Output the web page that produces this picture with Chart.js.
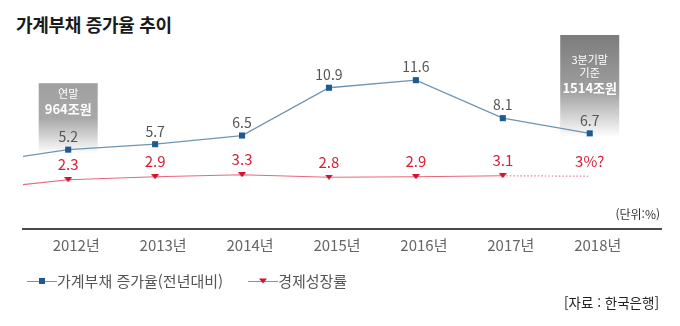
<!DOCTYPE html>
<html lang="ko">
<head>
<meta charset="utf-8">
<script src="https://cdn.jsdelivr.net/npm/chart.js@4.4.1/dist/chart.umd.min.js"></script>
<style>
  html, body { margin: 0; padding: 0; background: #fff; }
  body { width: 680px; height: 326px; position: relative; overflow: hidden; font-family: 'Noto Sans CJK KR', 'Noto Sans', sans-serif; }
  #chart { position: absolute; left: 0; top: 0; }
  .title { position: absolute; left: 16px; top: 14px; font-size: 18px; font-weight: 700; line-height: 20px; color: #1a1a1a; letter-spacing: -0.3px; }
  .unit { position: absolute; right: 20px; top: 206px; font-size: 12px; line-height: 16px; color: #333; }
  .source { position: absolute; right: 21px; top: 293px; font-size: 13.5px; line-height: 18px; color: #222; }
  #legend { position: absolute; left: 27px; top: 271px; display: flex; align-items: center; font-size: 15px; line-height: 20px; color: #555; }
  #legend .item { display: flex; align-items: center; margin-right: 25px; }
  #legend .sw { position: relative; width: 30px; height: 0; border-top: 1px solid; }
  #legend .mk { position: absolute; left: 50%; top: -0.5px; transform: translate(-50%, -50%); }
</style>
</head>
<body>
<div class="title">가계부채 증가율 추이</div>
<canvas id="chart" width="680" height="326"></canvas>
<div class="unit">(단위:%)</div>
<div id="legend"></div>
<div class="source">[자료 : 한국은행]</div>
<script>
const years = [2012, 2013, 2014, 2015, 2016, 2017, 2018];
const debtGrowth = [5.2, 5.7, 6.5, 10.9, 11.6, 8.1, 6.7];
const gdpGrowth = [2.3, 2.9, 3.3, 2.8, 2.9, 3.1, 3.0];
const gdpLabels = ['2.3', '2.9', '3.3', '2.8', '2.9', '3.1', '3%?'];
// 2012년 왼쪽으로 이어지는 선
const stubYear = 2011;
const debtStub = 4.0;
const gdpStub = 0.4;
const note2012 = ['연말', '964조원'];
const note2018 = ['3분기말', '기준', '1514조원'];

const FONT = "'Noto Sans CJK KR', 'Noto Sans', sans-serif";
const BLUE_LINE = '#6f95b3';
const BLUE_MARK = '#1d5a94';
const RED_LINE = '#e8677b';
const RED_MARK = '#d2132f';

function triangleDown(w, h, color) {
  const c = document.createElement('canvas');
  c.width = w;
  c.height = h;
  const g = c.getContext('2d');
  g.fillStyle = color;
  g.beginPath();
  g.moveTo(0, 0);
  g.lineTo(w, 0);
  g.lineTo(w / 2, h);
  g.closePath();
  g.fill();
  return c;
}

// 회색 그라데이션 박스 (연말 964조원 / 3분기말 기준 1514조원)
const noteBoxes = {
  id: 'noteBoxes',
  beforeDatasetsDraw(chart, args, opts) {
    const { ctx, scales: { x, y } } = chart;
    opts.items.forEach(item => {
      const cx = x.getPixelForValue(item.year);
      const top = y.getPixelForValue(item.top);
      const bottom = y.getPixelForValue(debtGrowth[years.indexOf(item.year)]) + 4;
      const grad = ctx.createLinearGradient(0, top, 0, bottom);
      item.stops.forEach(s => grad.addColorStop(s[0], s[1]));
      ctx.save();
      ctx.fillStyle = grad;
      ctx.fillRect(cx - 29.5, top, 59, bottom - top);
      ctx.fillStyle = '#fff';
      ctx.textAlign = 'center';
      ctx.textBaseline = 'middle';
      let ty = top + item.textTop;
      item.lines.forEach((line, k) => {
        const last = k === item.lines.length - 1;
        if (k > 0) ty += last ? 15 : 13;
        ctx.font = last ? `bold 13px ${FONT}` : `11px ${FONT}`;
        ctx.fillText(line, cx, ty);
      });
      ctx.restore();
    });
  }
};

const valueLabels = {
  id: 'valueLabels',
  afterDatasetsDraw(chart) {
    const ctx = chart.ctx;
    chart.data.datasets.forEach((ds, di) => {
      const meta = chart.getDatasetMeta(di);
      ctx.save();
      ctx.fillStyle = ds.labelColor;
      ctx.font = ds.labelFont;
      ctx.textAlign = 'center';
      ctx.textBaseline = 'middle';
      meta.data.forEach((pt, i) => {
        const text = ds.valueLabels[i];
        if (!text) return;
        ctx.fillText(text, pt.x, pt.y - ds.labelGap);
      });
      ctx.restore();
    });
  }
};

const debtPoints = [{ x: stubYear, y: debtStub }].concat(years.map((x, i) => ({ x, y: debtGrowth[i] })));
const gdpPoints = [{ x: stubYear, y: gdpStub }].concat(years.map((x, i) => ({ x, y: gdpGrowth[i] })));
const lastIdx = years.length; // 2018 (앞에 stub 하나)

const chart = new Chart(document.getElementById('chart'), {
  type: 'line',
  data: {
    datasets: [{
      label: '가계부채 증가율(전년대비)',
      data: debtPoints,
      yAxisID: 'y',
      borderColor: BLUE_LINE,
      borderWidth: 1.3,
      pointStyle: 'rect',
      pointRadius: ctx => ctx.dataIndex === 0 ? 0 : 4.3,
      pointBackgroundColor: BLUE_MARK,
      pointBorderWidth: 0,
      tension: 0,
      valueLabels: [null].concat(debtGrowth.map(v => v.toFixed(1))),
      labelColor: '#555',
      labelFont: `14px ${FONT}`,
      labelGap: 13
    }, {
      label: '경제성장률',
      data: gdpPoints,
      yAxisID: 'y2',
      borderColor: RED_LINE,
      borderWidth: 1.2,
      pointStyle: triangleDown(8, 5, RED_MARK),
      pointRadius: ctx => (ctx.dataIndex === 0 || ctx.dataIndex === lastIdx) ? 0 : 4,
      pointBackgroundColor: RED_MARK,
      pointBorderWidth: 0,
      tension: 0,
      segment: {
        borderDash: ctx => ctx.p0DataIndex === lastIdx - 1 ? [1.5, 2] : undefined,
        borderColor: ctx => ctx.p0DataIndex === lastIdx - 1 ? '#e27e8d' : undefined
      },
      valueLabels: [null].concat(gdpLabels),
      labelColor: '#d81f36',
      labelFont: `15px ${FONT}`,
      labelGap: 15
    }]
  },
  options: {
    responsive: false,
    animation: false,
    layout: { padding: { top: 30, left: 23, right: 19, bottom: 65 } },
    plugins: {
      legend: { display: false },
      tooltip: { enabled: false },
      noteBoxes: {
        items: [
          { year: 2012, top: 11.32, textTop: 11, lines: note2012,
            stops: [[0, '#a0a0a0'], [0.5, '#a8a8a8'], [1, '#ffffff']] },
          { year: 2018, top: 15.76, textTop: 25, lines: note2018,
            stops: [[0, '#7c7c7c'], [0.55, '#a0a0a0'], [1, '#ffffff']] }
        ]
      }
    },
    scales: {
      x: {
        type: 'linear',
        min: 2011.48,
        max: 2018.82,
        afterBuildTicks: s => { s.ticks = years.map(v => ({ value: v })); },
        grid: { display: false, drawTicks: false },
        border: { display: true, color: '#4a4a4a', width: 2 },
        ticks: {
          callback: v => v + '년',
          color: '#666',
          font: { size: 15, family: FONT },
          padding: 7,
          labelOffset: 8,
          maxRotation: 0,
          autoSkip: false
        }
      },
      y: { display: false, min: -2.11, max: 16.22 },
      y2: { display: false, min: -7.5, max: 32.1 }
    }
  },
  plugins: [noteBoxes, valueLabels]
});

// 범례: 선 + 마커
const legend = document.getElementById('legend');
chart.data.datasets.forEach((ds, i) => {
  const item = document.createElement('span');
  item.className = 'item';
  const sw = document.createElement('span');
  sw.className = 'sw';
  sw.style.borderColor = ds.borderColor;
  const mk = document.createElement('span');
  mk.className = 'mk';
  if (i === 0) {
    mk.style.cssText += `width:6px;height:6px;background:${ds.pointBackgroundColor};`;
  } else {
    mk.style.cssText += `width:0;height:0;border-left:4px solid transparent;border-right:4px solid transparent;border-top:5px solid ${ds.pointBackgroundColor};`;
  }
  sw.appendChild(mk);
  const txt = document.createElement('span');
  txt.textContent = ds.label;
  item.appendChild(sw);
  item.appendChild(txt);
  legend.appendChild(item);
});
</script>
</body>
</html>
